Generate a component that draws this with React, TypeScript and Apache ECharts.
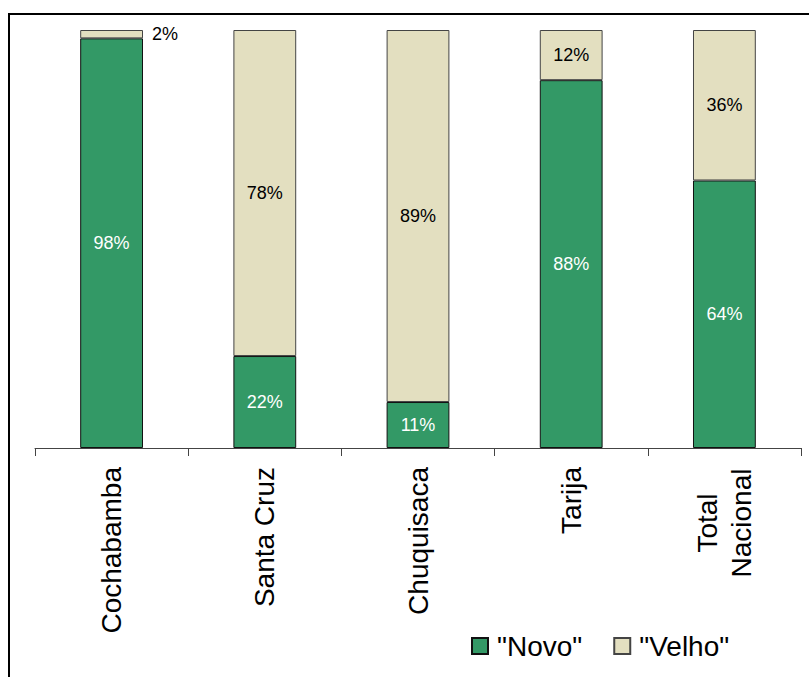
import React, { useEffect, useRef } from "react";
import * as echarts from "echarts";

const categories = ["Cochabamba", "Santa Cruz", "Chuquisaca", "Tarija", "Total\nNacional"];
const novo = [98, 22, 11, 88, 64];
const velho = [2, 78, 89, 12, 36];
const seriesNames = ['"Novo"', '"Velho"'];

const FONT = "'Liberation Sans', Arial, sans-serif";

export default function App() {
  const ref = useRef<HTMLDivElement>(null);
  useEffect(() => {
    if (!ref.current) return;
    const chart = echarts.init(ref.current, undefined, { renderer: "svg" });
    chart.setOption({
      animation: false,
      backgroundColor: "#ffffff",
      textStyle: { fontFamily: FONT },
      grid: { left: 35, right: 8, top: 30, bottom: 229, containLabel: false },
      legend: {
        data: seriesNames,
        left: 471,
        top: 632,
        padding: 0,
        itemWidth: 16,
        itemHeight: 16,
        itemGap: 31,
        icon: "rect",
        textStyle: { fontSize: 28, color: "#000", fontFamily: FONT, padding: [0, 0, 0, 4] },
      },
      xAxis: {
        type: "category",
        data: categories,
        axisLine: { show: true, lineStyle: { color: "#444", width: 1 } },
        axisTick: { show: true, alignWithLabel: false, length: 8, lineStyle: { color: "#444", width: 1 } },
        axisLabel: {
          rotate: 90,
          interval: 0,
          margin: 19,
          fontSize: 28,
          color: "#000",
          fontFamily: FONT,
          align: "right",
          formatter: (v: string) =>
            v.indexOf("\n") >= 0 ? v.split("\n").map((s) => `{c|${s}}`).join("\n") : v,
          rich: {
            c: { width: 112, align: "center", fontSize: 28, lineHeight: 34, fontFamily: FONT, color: "#000" },
          },
        },
      },
      yAxis: { type: "value", min: 0, max: 100, show: false },
      series: [
        {
          name: seriesNames[0],
          type: "bar",
          stack: "t",
          barWidth: "41%",
          data: novo,
          itemStyle: { color: "#339966", borderColor: "#111", borderWidth: 1 },
          label: {
            show: true,
            position: "inside",
            formatter: "{c}%",
            color: "#ffffff",
            fontSize: 18,
            fontFamily: FONT,
          },
        },
        {
          name: seriesNames[1],
          type: "bar",
          stack: "t",
          barWidth: "41%",
          data: velho.map((v, i) =>
            i === 0 ? { value: v, label: { position: "right", distance: 9 } } : v
          ),
          itemStyle: { color: "#E3DFC0", borderColor: "#444", borderWidth: 1 },
          label: {
            show: true,
            position: "inside",
            formatter: "{c}%",
            color: "#000000",
            fontSize: 18,
            fontFamily: FONT,
          },
        },
      ],
      graphic: [
        {
          type: "rect",
          shape: { x: 9, y: 14, width: 1200, height: 1200 },
          style: { fill: "none", stroke: "#000", lineWidth: 2 },
          silent: true,
          z: 100,
        },
      ],
    });
    return () => chart.dispose();
  }, []);
  return (
    <div
      ref={ref}
      style={{ position: "fixed", left: 0, top: 0, width: 809, height: 677, background: "#fff" }}
    />
  );
}
